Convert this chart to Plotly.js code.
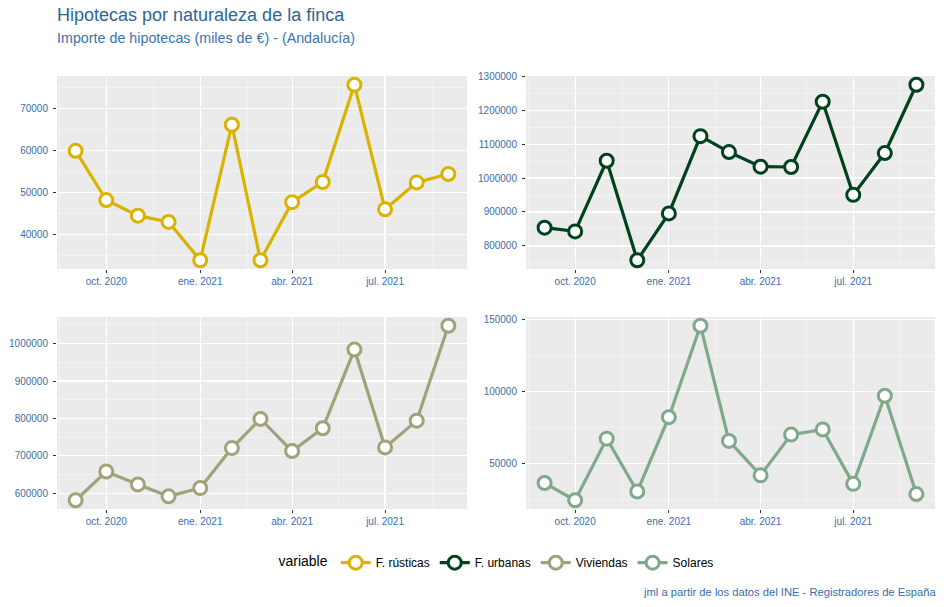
<!DOCTYPE html>
<html>
<head>
<meta charset="utf-8">
<script src="https://cdn.plot.ly/plotly-3.0.1.min.js"></script>
<style>html,body{margin:0;padding:0;background:#fff}#chart{width:944px;height:607px}</style>
</head>
<body>
<div id="chart"></div>
<script>
// ---- data ----
const months = ["2020-09-01","2020-10-01","2020-11-01","2020-12-01","2021-01-01","2021-02-01","2021-03-01",
                "2021-04-01","2021-05-01","2021-06-01","2021-07-01","2021-08-01","2021-09-01"];
const seriesNames = ["F. rústicas","F. urbanas","Viviendas","Solares"];
const rusticas = [59900,48200,44500,43000,33900,66100,33900,47700,52500,75600,46000,52400,54400];
const urbanas  = [853800,842900,1050900,758000,895700,1123300,1076400,1033400,1032500,1224700,950400,1073500,1274500];
const viviendas= [581500,658300,623800,592100,614000,720800,798700,712900,773800,984100,722700,794200,1047700];
const solares  = [36200,24200,67000,30300,81900,145400,65400,41500,69800,73400,35600,96800,28500];
const colors = ["#d9b300","#00421c","#a2a27a","#7fa98a"];
const tickVals = ["2020-10-01","2021-01-01","2021-04-01","2021-07-01"];
const tickText = ["oct. 2020","ene. 2021","abr. 2021","jul. 2021"];
const yTicks = [
  [40000,50000,60000,70000],
  [800000,900000,1000000,1100000,1200000,1300000],
  [600000,700000,800000,900000,1000000],
  [50000,100000,150000]
];
const allSeries = [rusticas, urbanas, viviendas, solares];

// ---- layout helpers ----
const W = 944, H = 607;
const xDom = [[57/W, 467/W],[526/W, 935/W]];
const yDom = [[1-269/H, 1-76/H],[1-509/H, 1-317/H]];
const tickColor = "#3c6ea8";

function expandRange(arr){
  const mn = Math.min(...arr), mx = Math.max(...arr), d = (mx-mn)*0.05;
  return [mn-d, mx+d];
}
function dateRange(){
  const t0 = Date.parse(months[0]), t1 = Date.parse(months[months.length-1]);
  const d = (t1-t0)*0.05;
  return [new Date(t0-d).toISOString(), new Date(t1+d).toISOString()];
}

const traces = [];
const layout = {
  width: W, height: H,
  margin: {l:0,r:0,t:0,b:0},
  paper_bgcolor: "#ffffff",
  plot_bgcolor: "#ebebeb",
  font: {family: "Liberation Sans, Arial, sans-serif", color: tickColor, size: 10},
  showlegend: true,
  legend: {
    orientation: "h", x: 0.527, xanchor: "center", y: 0.073, yanchor: "middle",
    title: {text: "variable", font: {size: 14, color: "#000"}},
    font: {size: 12, color: "#000"}, itemwidth: 30
  },
  annotations: [
    {text: "Hipotecas por naturaleza de la finca", xref: "paper", yref: "paper",
     x: 55/W, y: 1-15/H, xanchor: "left", yanchor: "middle", showarrow: false,
     font: {size: 18, color: "#2f6497"}},
    {text: "Importe de hipotecas (miles de €) - (Andalucía)", xref: "paper", yref: "paper",
     x: 55/W, y: 1-38/H, xanchor: "left", yanchor: "middle", showarrow: false,
     font: {size: 14.3, color: "#3a74b0"}},
    {text: "jml a partir de los datos del INE - Registradores de España", xref: "paper", yref: "paper",
     x: 938/W, y: 1-592/H, xanchor: "right", yanchor: "middle", showarrow: false,
     font: {size: 11.2, color: "#3a6ea8"}}
  ]
};

allSeries.forEach((vals, i) => {
  const col = i % 2, row = Math.floor(i/2);
  const n = i+1;
  const xa = "xaxis"+(n===1?"":n), ya = "yaxis"+(n===1?"":n);
  traces.push({
    type: "scatter", mode: "lines+markers", name: seriesNames[i],
    x: months, y: vals,
    xaxis: "x"+(n===1?"":n), yaxis: "y"+(n===1?"":n),
    line: {color: colors[i], width: 3.2},
    marker: {size: 13, color: "#ffffff", line: {color: colors[i], width: 3}},
    cliponaxis: false
  });
  const yr = expandRange(vals);
  const ydt = yTicks[i][1]-yTicks[i][0];
  layout[xa] = {
    domain: xDom[col], anchor: "y"+(n===1?"":n), type: "date",
    range: dateRange(), tickmode: "array", tickvals: tickVals, ticktext: tickText,
    ticks: "outside", ticklen: 3, tickcolor: "#333", tickwidth: 1,
    showgrid: true, gridcolor: "#ffffff", gridwidth: 1.1, zeroline: false, showline: false,
    tickfont: {size: 10, color: tickColor}, automargin: false,
    minor: {tick0: "2020-08-16", dtick: "M3", showgrid: true, gridcolor: "#f6f6f6", gridwidth: 0.6, ticks: ""}
  };
  layout[ya] = {
    domain: yDom[row], anchor: "x"+(n===1?"":n),
    range: yr, tickmode: "array", tickvals: yTicks[i],
    ticks: "outside", ticklen: 3, tickcolor: "#333", tickwidth: 1,
    showgrid: true, gridcolor: "#ffffff", gridwidth: 1.1, zeroline: false, showline: false,
    tickfont: {size: 10, color: tickColor}, automargin: false,
    tickformat: "d", ticklabelstandoff: 3,
    minor: {tick0: yTicks[i][0]-ydt/2, dtick: ydt, showgrid: true, gridcolor: "#f6f6f6", gridwidth: 0.6, ticks: ""}
  };
});

Plotly.newPlot("chart", traces, layout, {displayModeBar: false, staticPlot: true});
</script>
</body>
</html>
